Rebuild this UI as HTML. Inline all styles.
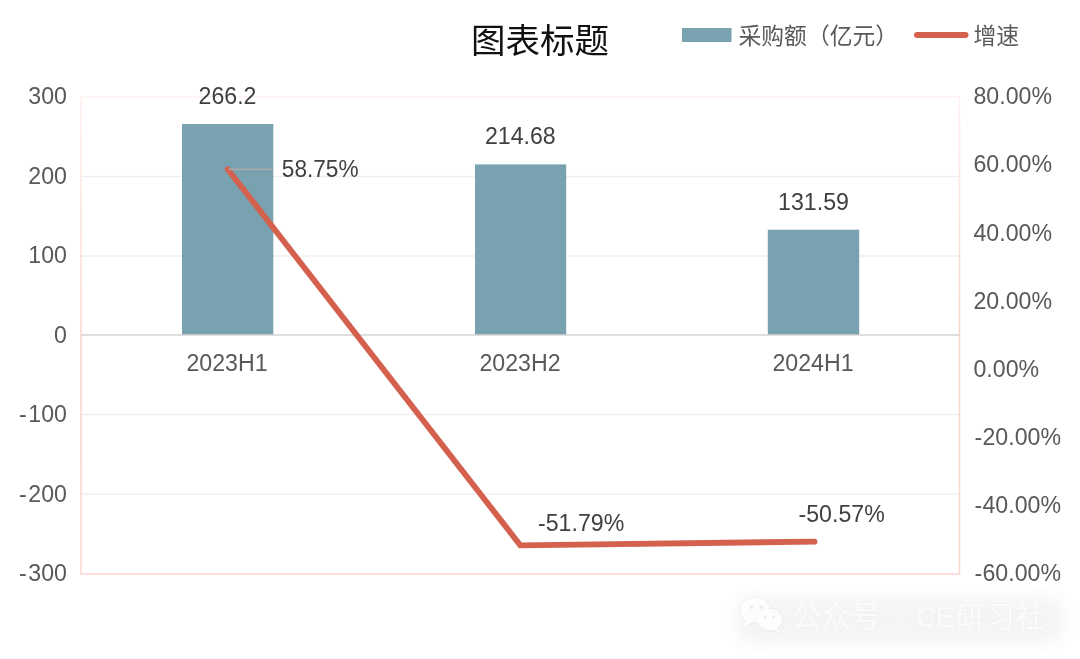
<!DOCTYPE html>
<html lang="zh-CN">
<head>
<meta charset="utf-8">
<title>图表标题</title>
<style>
html,body{margin:0;padding:0;background:#fff;}
body{width:1080px;height:659px;overflow:hidden;position:relative;font-family:"Liberation Sans","Noto Sans CJK SC",sans-serif;}
svg{position:absolute;left:0;top:0;display:block;}
text{font-family:"Liberation Sans","Noto Sans CJK SC",sans-serif;}
.ax{font-size:24.5px;fill:#595959;}
.dl{font-size:24.5px;fill:#404040;}
.lg{font-size:22.8px;fill:#595959;}
.ttl{font-size:34.5px;fill:#111;}
</style>
</head>
<body>
<svg width="1080" height="659" viewBox="0 0 1080 659">
  <defs>
    <linearGradient id="axg" x1="0" y1="0" x2="0" y2="1">
      <stop offset="0" stop-color="#fef0ed"/>
      <stop offset="0.5" stop-color="#f9d4cd"/>
      <stop offset="1" stop-color="#f9d5ce"/>
    </linearGradient>
    <filter id="blur" x="-20%" y="-100%" width="140%" height="300%">
      <feGaussianBlur stdDeviation="9"/>
    </filter>
    <filter id="tsh2" x="-10%" y="-30%" width="120%" height="160%">
      <feDropShadow dx="0" dy="0" stdDeviation="1.2" flood-color="#000" flood-opacity="0.06"/>
    </filter>
    <filter id="tsh" x="-10%" y="-30%" width="120%" height="160%">
      <feDropShadow dx="0" dy="0" stdDeviation="1.5" flood-color="#000" flood-opacity="0.09"/>
    </filter>
  </defs>
  <rect x="0" y="0" width="1080" height="659" fill="#ffffff"/>

  <!-- gridlines -->
  <g stroke="#efefef" stroke-width="1.5">
    <line x1="81" y1="176.5" x2="959.5" y2="176.5"/>
    <line x1="81" y1="256" x2="959.5" y2="256"/>
    <line x1="81" y1="414.5" x2="959.5" y2="414.5"/>
    <line x1="81" y1="494" x2="959.5" y2="494"/>
  </g>
  <!-- plot border -->
  <line x1="81" y1="96.7" x2="959.5" y2="96.7" stroke="#fef3f1" stroke-width="1.5"/>
  <line x1="80.3" y1="574" x2="960.2" y2="574" stroke="#f9d5ce" stroke-width="1.5"/>
  <rect x="80.25" y="96.5" width="1.5" height="477" fill="url(#axg)"/>
  <rect x="958.75" y="96.5" width="1.5" height="477" fill="url(#axg)"/>

  <!-- bars -->
  <g fill="#78a2af">
    <rect x="182" y="124" width="91.3" height="211"/>
    <rect x="475" y="164.4" width="91.2" height="170.6"/>
    <rect x="767.8" y="229.7" width="91.4" height="105.3"/>
  </g>
  <!-- zero axis -->
  <line x1="81" y1="335" x2="959.5" y2="335" stroke="#d4d4d4" stroke-width="1.5"/>

  <!-- line series -->
  <polyline points="227.7,169.2 520.3,545.3 814.5,541.6" fill="none" stroke="#d4614e" stroke-width="5.8" stroke-linecap="round" stroke-linejoin="miter"/>
  <!-- leader -->
  <line x1="228.5" y1="169.2" x2="273.5" y2="169.2" stroke="#a9a9a9" stroke-width="1.6"/>

  <!-- left axis labels -->
  <g class="ax" text-anchor="end">
    <text transform="translate(67 104.3) scale(0.945 1)">300</text>
    <text transform="translate(67 183.8) scale(0.945 1)">200</text>
    <text transform="translate(67 263.3) scale(0.945 1)">100</text>
    <text transform="translate(67 342.8) scale(0.945 1)">0</text>
    <text transform="translate(67 422.3) scale(0.945 1)">-<tspan dx="1.8">100</tspan></text>
    <text transform="translate(67 501.8) scale(0.945 1)">-<tspan dx="1.8">200</tspan></text>
    <text transform="translate(67 581.3) scale(0.945 1)">-<tspan dx="1.8">300</tspan></text>
  </g>
  <!-- right axis labels -->
  <g class="ax" text-anchor="start">
    <text transform="translate(973.5 104.3) scale(0.945 1)">80.00%</text>
    <text transform="translate(973.5 172.4) scale(0.945 1)">60.00%</text>
    <text transform="translate(973.5 240.6) scale(0.945 1)">40.00%</text>
    <text transform="translate(973.5 308.7) scale(0.945 1)">20.00%</text>
    <text transform="translate(973.5 376.9) scale(0.945 1)">0.00%</text>
    <text transform="translate(974.5 445) scale(0.945 1)">-<tspan dx="0.3">20.00%</tspan></text>
    <text transform="translate(974.5 513.2) scale(0.945 1)">-<tspan dx="0.3">40.00%</tspan></text>
    <text transform="translate(974.5 581.3) scale(0.945 1)">-<tspan dx="0.3">60.00%</tspan></text>
  </g>
  <!-- category labels -->
  <g class="ax" text-anchor="middle">
    <text transform="translate(227 371) scale(0.945 1)">2023H1</text>
    <text transform="translate(520 371) scale(0.945 1)">2023H2</text>
    <text transform="translate(813 371) scale(0.945 1)">2024H1</text>
  </g>
  <!-- data labels -->
  <g class="dl" text-anchor="middle">
    <text transform="translate(227.5 104) scale(0.945 1)">266.2</text>
    <text transform="translate(520.3 144.4) scale(0.945 1)">214.68</text>
    <text transform="translate(813.5 210.3) scale(0.945 1)">131.59</text>
  </g>
  <g class="dl" text-anchor="start">
    <text transform="translate(281.8 177) scale(0.925 1)">58.75%</text>
    <text transform="translate(538 530.8) scale(0.945 1)">-51.79%</text>
    <text transform="translate(798.5 522.3) scale(0.945 1)">-50.57%</text>
  </g>

  <!-- title & legend -->
  <text class="ttl" x="540" y="52.8" text-anchor="middle">图表标题</text>
  <rect x="682" y="28" width="49.5" height="14" fill="#78a2af"/>
  <text class="lg" x="738.5" y="43.5">采购额（亿元）</text>
  <line x1="917" y1="35" x2="965.5" y2="35" stroke="#d4614e" stroke-width="6" stroke-linecap="round"/>
  <text class="lg" x="973.5" y="43.5">增速</text>

  <!-- watermark -->
  <rect x="736" y="596" width="328" height="48" rx="16" fill="#000" opacity="0.04" filter="url(#blur)"/>
  <g filter="url(#tsh)" fill="#ffffff" opacity="0.88">
    <ellipse cx="755.5" cy="610.5" rx="14.8" ry="12.3"/>
    <path d="M746 619 l-2.5 7.5 l8.5 -4.5 z"/>
  </g>
  <g filter="url(#tsh)" fill="#ffffff" opacity="0.88">
    <ellipse cx="769.5" cy="619.5" rx="12.3" ry="10.6"/>
    <path d="M776.5 627 l3 5.5 l-8 -3.5 z"/>
  </g>
  <g filter="url(#tsh2)" fill="#ffffff" opacity="0.62" font-size="29.5">
    <text x="791.5" y="626.5" textLength="89" lengthAdjust="spacing">公众号</text>
    <text x="898.5" y="626.5" text-anchor="middle">·</text>
    <text x="916.5" y="626.5" textLength="37.5" lengthAdjust="spacingAndGlyphs">CE</text>
    <text x="955" y="626.5" textLength="90" lengthAdjust="spacing">研习社</text>
  </g>
  <g fill="#ececec">
    <circle cx="751.5" cy="607.3" r="1.7"/><circle cx="761.5" cy="607.3" r="1.7"/>
    <circle cx="765.2" cy="616.8" r="1.4"/><circle cx="773.4" cy="616.8" r="1.4"/>
  </g>
</svg>
</body>
</html>
